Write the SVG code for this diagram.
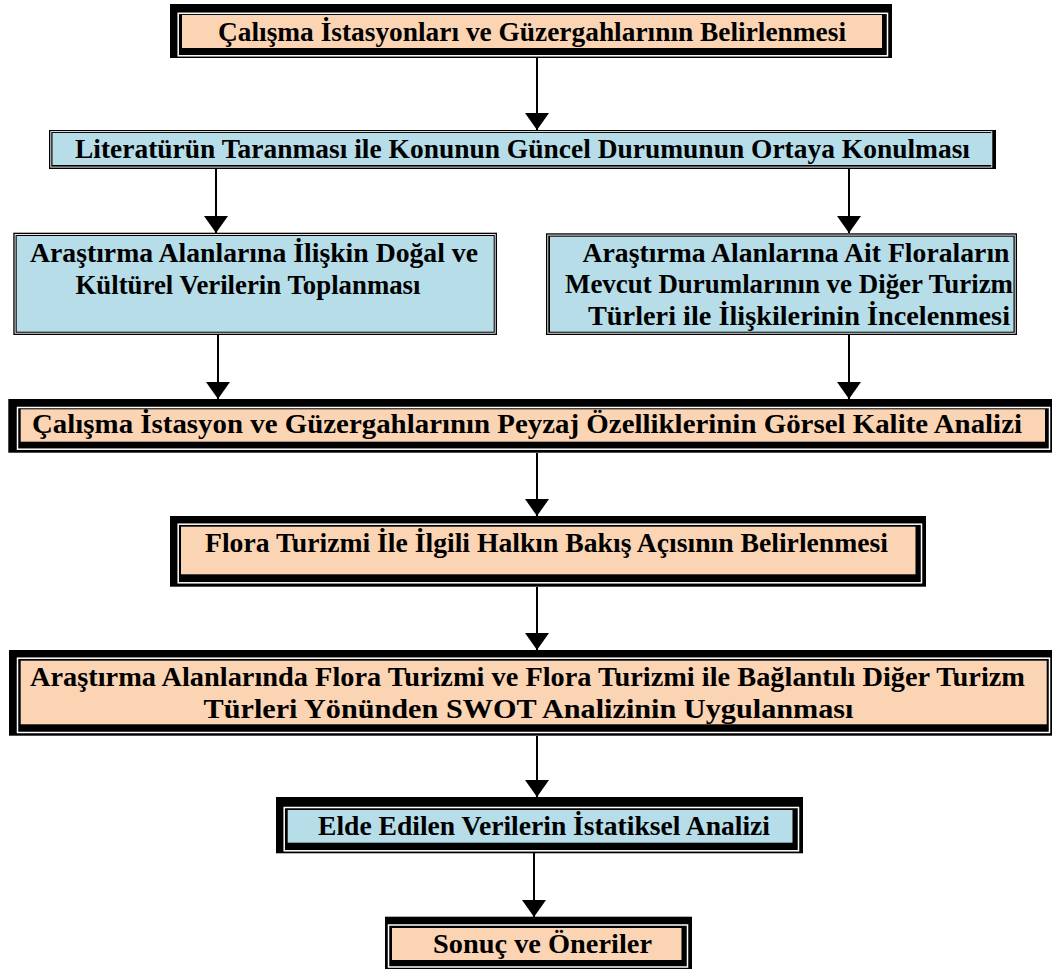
<svg xmlns="http://www.w3.org/2000/svg" width="1052" height="969" viewBox="0 0 1052 969">
<defs>
<style>
.blk{fill:#000}
.wl{fill:none;stroke:#fff;stroke-width:1.5}
.wt{fill:none;stroke:#fff;stroke-width:0.9}
.peach{fill:#FBD4B4}
.blue{fill:#B6DDE8}
.t{font-family:"Liberation Serif","Times New Roman",serif;font-weight:bold;font-size:26.5px;fill:#000;text-anchor:middle}
.ln{stroke:#000;stroke-width:2;fill:none}
</style>
<marker id="ah" markerUnits="userSpaceOnUse" markerWidth="17" markerHeight="24" viewBox="0 0 17 24" refX="17" refY="12" orient="auto">
<path d="M0,0 L17,12 L0,24 z" fill="#000"/>
</marker>
</defs>
<rect width="1052" height="969" fill="#fff"/>
<g id="connectors">
<line class="ln" x1="537" y1="58" x2="537" y2="130" marker-end="url(#ah)"/>
<line class="ln" x1="216" y1="169" x2="216" y2="233" marker-end="url(#ah)"/>
<line class="ln" x1="849" y1="169" x2="849" y2="233" marker-end="url(#ah)"/>
<line class="ln" x1="218" y1="335" x2="218" y2="399" marker-end="url(#ah)"/>
<line class="ln" x1="849" y1="335" x2="849" y2="399" marker-end="url(#ah)"/>
<line class="ln" x1="537" y1="453" x2="537" y2="516" marker-end="url(#ah)"/>
<line class="ln" x1="537" y1="587" x2="537" y2="650" marker-end="url(#ah)"/>
<line class="ln" x1="537" y1="736" x2="537" y2="797" marker-end="url(#ah)"/>
<line class="ln" x1="534" y1="853" x2="534" y2="917" marker-end="url(#ah)"/>
</g>
<g id="n1">
<rect class="blk" x="170" y="4" width="722" height="54"/>
<rect class="wl" x="178.2" y="13.3" width="709.3" height="42.5"/>
<rect class="peach" x="182" y="15" width="700" height="33"/>
<text class="t" x="532" y="40.5" textLength="628" lengthAdjust="spacingAndGlyphs">Çalışma İstasyonları ve Güzergahlarının Belirlenmesi</text>
</g>
<g id="n2">
<rect class="blk" x="49" y="130" width="947" height="39"/>
<rect class="wt" x="50.8" y="131.6" width="941" height="35.5"/>
<rect class="blue" x="52.5" y="133" width="939.5" height="32"/>
<text class="t" x="522.5" y="157.5" textLength="895" lengthAdjust="spacingAndGlyphs">Literatürün Taranması ile Konunun Güncel Durumunun Ortaya Konulması</text>
</g>
<g id="n3">
<rect class="blk" x="13.3" y="232.7" width="483.7" height="102.3"/>
<rect class="wt" x="15.1" y="234.5" width="480.1" height="98.7"/>
<rect class="blue" x="16.7" y="236" width="477" height="95.7"/>
<text class="t" x="254" y="262.3" textLength="448" lengthAdjust="spacingAndGlyphs">Araştırma Alanlarına İlişkin Doğal ve</text>
<text class="t" x="248" y="293.5" textLength="345" lengthAdjust="spacingAndGlyphs">Kültürel Verilerin Toplanması</text>
</g>
<g id="n4">
<rect class="blk" x="546" y="233.3" width="471" height="101.7"/>
<rect class="wt" x="547.8" y="235.1" width="467.4" height="98.1"/>
<rect class="blue" x="550" y="236.7" width="463.5" height="95"/>
<text class="t" x="796" y="261.7" textLength="427" lengthAdjust="spacingAndGlyphs">Araştırma Alanlarına Ait Floraların</text>
<text class="t" x="789" y="293.3" textLength="448" lengthAdjust="spacingAndGlyphs">Mevcut Durumlarının ve Diğer Turizm</text>
<text class="t" x="799" y="325" textLength="422" lengthAdjust="spacingAndGlyphs">Türleri ile İlişkilerinin İncelenmesi</text>
</g>
<g id="n5">
<rect class="blk" x="8.3" y="399" width="1043.7" height="53.7"/>
<rect class="wl" x="17.5" y="407.5" width="1032" height="41.7"/>
<rect class="peach" x="20.7" y="409.3" width="1024.3" height="32.4"/>
<text class="t" x="527" y="433.3" textLength="990" lengthAdjust="spacingAndGlyphs">Çalışma İstasyon ve Güzergahlarının Peyzaj Özelliklerinin Görsel Kalite Analizi</text>
</g>
<g id="n6">
<rect class="blk" x="170" y="516" width="756" height="70.7"/>
<rect class="wl" x="178.2" y="524.2" width="743.3" height="58.6"/>
<rect class="peach" x="181" y="526.7" width="734.5" height="47.6"/>
<text class="t" x="546.5" y="552.3" textLength="683" lengthAdjust="spacingAndGlyphs">Flora Turizmi İle İlgili Halkın Bakış Açısının Belirlenmesi</text>
</g>
<g id="n7">
<rect class="blk" x="9" y="650" width="1043" height="85.7"/>
<rect class="wl" x="17.5" y="658.2" width="1032" height="74.3"/>
<rect class="peach" x="20.7" y="660.7" width="1026" height="63.6"/>
<text class="t" x="527.5" y="685.7" textLength="995" lengthAdjust="spacingAndGlyphs">Araştırma Alanlarında Flora Turizmi ve Flora Turizmi ile Bağlantılı Diğer Turizm</text>
<text class="t" x="528.5" y="717.5" textLength="650" lengthAdjust="spacingAndGlyphs">Türleri Yönünden SWOT Analizinin Uygulanması</text>
</g>
<g id="n8">
<rect class="blk" x="276" y="797" width="527" height="56.3"/>
<rect class="wl" x="284.2" y="807.5" width="514.3" height="43.3"/>
<rect class="blue" x="287.7" y="810" width="504.8" height="32.7"/>
<text class="t" x="544" y="835" textLength="452" lengthAdjust="spacingAndGlyphs">Elde Edilen Verilerin İstatiksel Analizi</text>
</g>
<g id="n9">
<rect class="blk" x="385" y="916.7" width="307" height="52.3"/>
<rect class="wl" x="388.5" y="925" width="299" height="42"/>
<rect class="peach" x="392" y="928" width="289.5" height="32"/>
<text class="t" x="542.5" y="953.3" textLength="219" lengthAdjust="spacingAndGlyphs">Sonuç ve Öneriler</text>
</g>
</svg>
